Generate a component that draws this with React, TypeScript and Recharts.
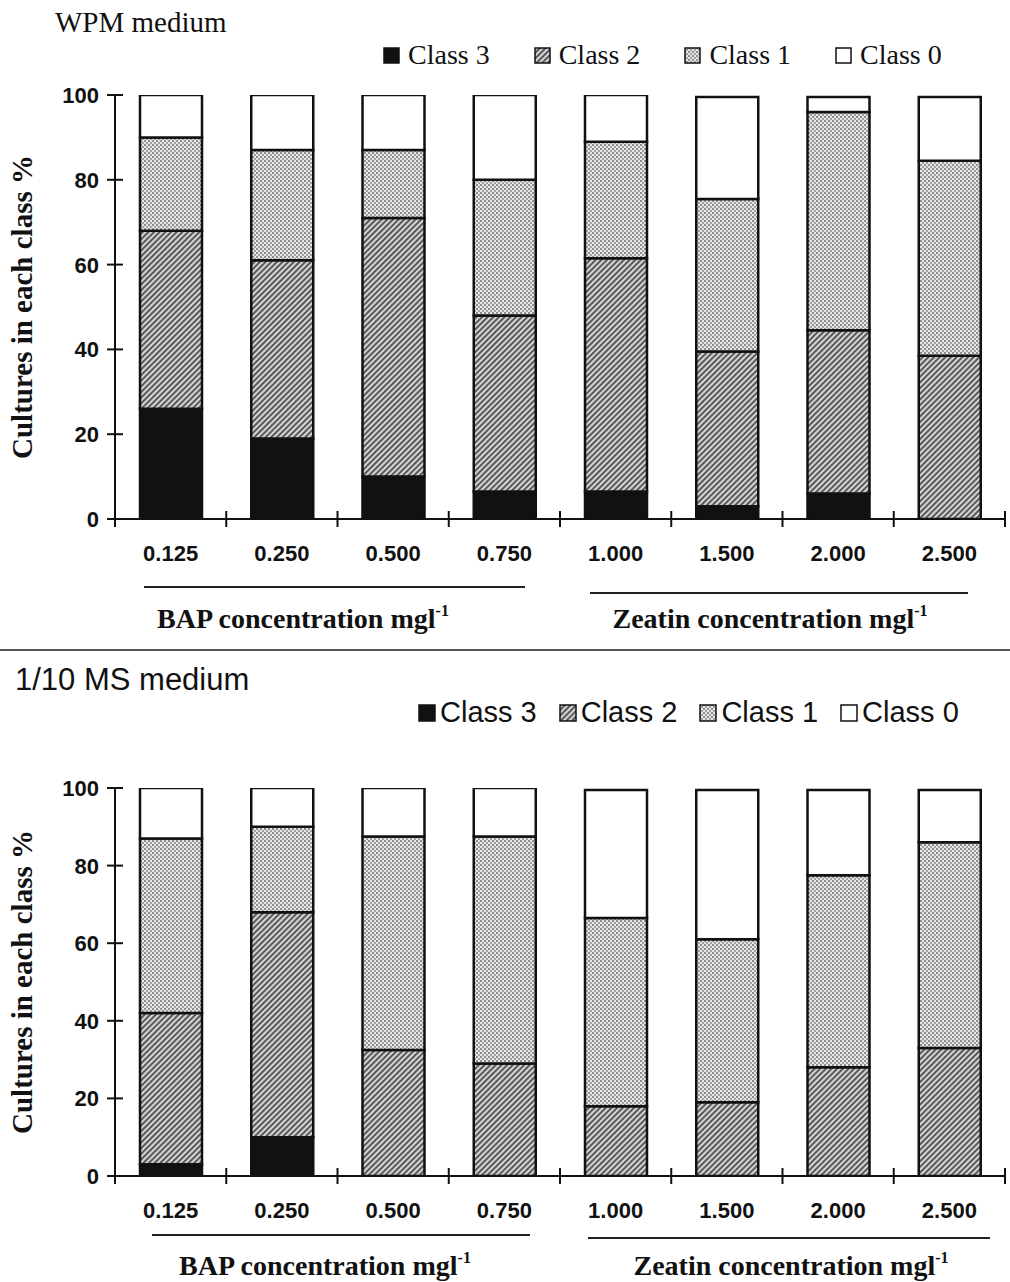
import { BarChart, Bar, XAxis, YAxis } from "recharts";

const concentrations = ["0.125", "0.250", "0.500", "0.750", "1.000", "1.500", "2.000", "2.500"];
const yTicks = [0, 20, 40, 60, 80, 100];

// WPM medium (% of cultures)
const wpmClass3 = [26, 19, 10, 6.5, 6.5, 3, 6, 0];
const wpmClass2 = [42, 42, 61, 41.5, 55, 36.5, 38.5, 38.5];
const wpmClass1 = [22, 26, 16, 32, 27.5, 36, 51.5, 46];
const wpmClass0 = [10, 13, 13, 20, 11, 24, 3.5, 15];

// 1/10 MS medium
const msClass3 = [3, 10, 0, 0, 0, 0, 0, 0];
const msClass2 = [39, 58, 32.5, 29, 18, 19, 28, 33];
const msClass1 = [45, 22, 55, 58.5, 48.5, 42, 49.5, 53];
const msClass0 = [13, 10, 12.5, 12.5, 33, 38.5, 22, 13.5];

const SERIF = "'Liberation Serif', 'Times New Roman', serif";
const SANS = "'Liberation Sans', Arial, sans-serif";
const PLOT_W = 890;
const BAND = PLOT_W / concentrations.length;

const build = (c3: number[], c2: number[], c1: number[], c0: number[]) =>
  concentrations.map((name, i) => ({ name, c3: c3[i], c2: c2[i], c1: c1[i], c0: c0[i] }));

const fills: Record<string, string> = {
  c3: "#111",
  c2: "url(#hatch)",
  c1: "url(#dots)",
  c0: "#fff",
};

function YTick({ x, y, payload }: any) {
  return (
    <g>
      <line x1={x - 8} x2={x + 8} y1={y} y2={y} stroke="#111" strokeWidth={2} />
      <text x={x - 16} y={y} dy={8} textAnchor="end" fontFamily={SANS} fontWeight="bold" fontSize={22} fill="#111">
        {payload.value}
      </text>
    </g>
  );
}

function XTick({ x, y, payload, index }: any) {
  return (
    <g>
      {index === 0 && (
        <line x1={x - BAND / 2} x2={x - BAND / 2} y1={y - 8} y2={y + 8} stroke="#111" strokeWidth={2} />
      )}
      <line x1={x + BAND / 2} x2={x + BAND / 2} y1={y - 8} y2={y + 8} stroke="#111" strokeWidth={2} />
      <text x={x} y={y + 42} textAnchor="middle" fontFamily={SANS} fontWeight="bold" fontSize={22} fill="#111">
        {payload.value}
      </text>
    </g>
  );
}

function Swatch({ k, s }: { k: string; s: number }) {
  return (
    <svg width={s} height={s} style={{ display: "block" }}>
      <rect x={1} y={1} width={s - 2} height={s - 2} fill={fills[k]} stroke="#111" strokeWidth={1.5} />
    </svg>
  );
}

function Legend({ top, left, font, size, gap, itemGap, swatch }: any) {
  const items = [
    ["c3", "Class 3"],
    ["c2", "Class 2"],
    ["c1", "Class 1"],
    ["c0", "Class 0"],
  ];
  return (
    <div
      style={{
        position: "absolute",
        top,
        left,
        display: "flex",
        alignItems: "center",
        gap: itemGap,
        fontFamily: font,
        fontSize: size,
        color: "#111",
        lineHeight: 1,
      }}
    >
      {items.map(([k, label]) => (
        <div key={k} style={{ display: "flex", alignItems: "center", gap }}>
          <Swatch k={k} s={swatch} />
          <span>{label}</span>
        </div>
      ))}
    </div>
  );
}

function Abs({ style, children }: any) {
  return <div style={{ position: "absolute", whiteSpace: "nowrap", lineHeight: 1, color: "#111", ...style }}>{children}</div>;
}

function Panel({ data, top, height, marginTop, marginBottom }: any) {
  return (
    <div style={{ position: "absolute", left: 0, top }}>
      <BarChart
        width={1010}
        height={height}
        data={data}
        margin={{ top: marginTop, right: 5, bottom: marginBottom, left: 0 }}
        barSize={62}
      >
        <XAxis
          dataKey="name"
          interval={0}
          height={50}
          tickSize={0}
          tickMargin={0}
          tick={<XTick />}
          axisLine={{ stroke: "#111", strokeWidth: 2 }}
        />
        <YAxis
          domain={[0, 100]}
          ticks={yTicks}
          width={115}
          tickSize={0}
          tickMargin={0}
          tick={<YTick />}
          axisLine={{ stroke: "#111", strokeWidth: 2 }}
          allowDataOverflow
        />
        {["c3", "c2", "c1", "c0"].map((k) => (
          <Bar key={k} dataKey={k} stackId="a" fill={fills[k]} stroke="#111" strokeWidth={2.5} isAnimationActive={false} />
        ))}
      </BarChart>
    </div>
  );
}

function YLabel({ cy }: { cy: number }) {
  return (
    <Abs
      style={{
        left: 22,
        top: cy,
        transform: "translate(-50%, -50%) rotate(-90deg)",
        fontFamily: SERIF,
        fontWeight: "bold",
        fontSize: 29,
      }}
    >
      Cultures in each class %
    </Abs>
  );
}

function GroupLabel({ x, y, text }: any) {
  return (
    <Abs style={{ left: x, top: y, transform: "translate(-50%, -50%)", fontFamily: SERIF, fontWeight: "bold", fontSize: 28 }}>
      {text} concentration mgl<sup style={{ fontSize: 16, verticalAlign: 12 }}>-1</sup>
    </Abs>
  );
}

function HLine({ x1, x2, y, color = "#222", h = 2 }: any) {
  return <div style={{ position: "absolute", left: x1, top: y, width: x2 - x1, height: h, background: color }} />;
}

export default function App() {
  const wpm = build(wpmClass3, wpmClass2, wpmClass1, wpmClass0);
  const ms = build(msClass3, msClass2, msClass1, msClass0);
  return (
    <div style={{ position: "absolute", left: 0, top: 0, width: 1010, height: 1282, background: "#fff", overflow: "hidden" }}>
      <svg width={0} height={0} style={{ position: "absolute" }}>
        <defs>
          <pattern id="hatch" width={4} height={4} patternUnits="userSpaceOnUse" patternTransform="rotate(45)">
            <rect width={4} height={4} fill="#d4d4d4" />
            <line x1={1} y1={0} x2={1} y2={4} stroke="#3a3a3a" strokeWidth={1.6} />
          </pattern>
          <pattern id="dots" width={4} height={4} patternUnits="userSpaceOnUse">
            <rect width={4} height={4} fill="#e6e6e6" />
            <rect x={0} y={0} width={2} height={2} fill="#8e8e8e" />
            <rect x={2} y={2} width={2} height={2} fill="#a0a0a0" />
          </pattern>
        </defs>
      </svg>

      {/* WPM medium */}
      <Abs style={{ left: 55, top: 8, fontFamily: SERIF, fontSize: 29 }}>WPM medium</Abs>
      <Legend top={41} left={383} font={SERIF} size={28} gap={8} itemGap={44} swatch={17} />
      <Panel data={wpm} top={0} height={640} marginTop={95} marginBottom={71} />
      <YLabel cy={307} />
      <HLine x1={144} x2={525} y={586} />
      <HLine x1={590} x2={968} y={592} />
      <GroupLabel x={303} y={618} text="BAP" />
      <GroupLabel x={770} y={618} text="Zeatin" />

      <HLine x1={0} x2={1010} y={649} color="#555" h={2} />

      {/* 1/10 MS medium */}
      <Abs style={{ left: 15, top: 664, fontFamily: SANS, fontSize: 31 }}>1/10 MS medium</Abs>
      <Legend top={698} left={418} font={SANS} size={29} gap={4} itemGap={22} swatch={18} />
      <Panel data={ms} top={660} height={622} marginTop={128} marginBottom={56} />
      <YLabel cy={982} />
      <HLine x1={152} x2={530} y={1234} />
      <HLine x1={588} x2={990} y={1237} />
      <GroupLabel x={325} y={1265} text="BAP" />
      <GroupLabel x={791} y={1265} text="Zeatin" />
    </div>
  );
}
